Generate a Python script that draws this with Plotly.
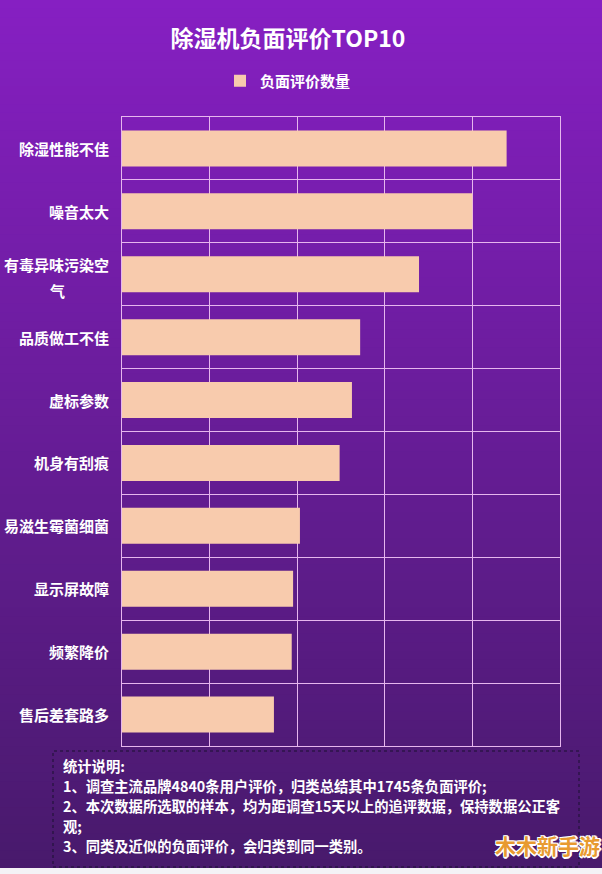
import plotly.graph_objects as go

# ---- data ----
categories = ["除湿性能不佳", "噪音太大", "有毒异味污染空\n气", "品质做工不佳", "虚标参数",
              "机身有刮痕", "易滋生霉菌细菌", "显示屏故障", "频繁降价", "售后差套路多"]
values = [281, 256, 217, 174, 168, 159, 130, 125, 124, 111]
series_name = "负面评价数量"
title_text = "除湿机负面评价TOP10"
note_lines = ["统计说明:",
              "1、调查主流品牌4840条用户评价，归类总结其中1745条负面评价;",
              "2、本次数据所选取的样本，均为距调查15天以上的追评数据，保持数据公正客",
              "观;",
              "3、同类及近似的负面评价，会归类到同一类别。"]
watermark = "木木新手游"

# ---- layout geometry (pixels) ----
W, H = 602, 874
L, R, T, B = 122, 42, 117, 128
PW, PH = W - L - R, H - T - B
FONT = "Noto Sans CJK SC, Noto Sans, sans-serif"
GRID = "#E6B6EE"

def px_x(x):
    return (x - L) / PW

def px_y(y):
    return (H - B - y) / PH

fig = go.Figure()
fig.add_trace(go.Bar(
    y=categories, x=values, orientation="h", name=series_name,
    marker=dict(color="#F8CBAD", line=dict(width=0)),
    showlegend=True,
))

# background gradient (overlapping strips to avoid seams)
top_c = (134, 31, 194)
bot_c = (72, 26, 108)
n = 100
bg_bottom = 868
shapes = []
for i in range(n):
    y0 = bg_bottom * i / n
    y1 = min(bg_bottom * (i + 1) / n + 3, bg_bottom)
    t = i / (n - 1)
    c = tuple(round(top_c[k] + (bot_c[k] - top_c[k]) * t) for k in range(3))
    shapes.append(dict(type="rect", xref="paper", yref="paper",
                       x0=px_x(-2), x1=px_x(W + 2), y0=px_y(y1), y1=px_y(y0),
                       fillcolor="rgb(%d,%d,%d)" % c, line=dict(width=0), layer="below"))
# note box
shapes.append(dict(type="rect", xref="paper", yref="paper",
                   x0=px_x(53), x1=px_x(579), y0=px_y(867), y1=px_y(751),
                   line=dict(color="#1A1030", width=1, dash="dot"), layer="above"))

annotations = []
LF = 15
for cat in categories:
    lines = cat.split("\n")
    if len(lines) == 1:
        annotations.append(dict(x=px_x(111), xref="paper", y=cat, yref="y", text=cat,
                                showarrow=False, xanchor="right", yanchor="middle",
                                font=dict(family=FONT, size=LF, color="white", weight="bold")))
    else:
        w1 = len(lines[0]) * LF * 1.02
        annotations.append(dict(x=px_x(111), xref="paper", y=cat, yref="y", text=lines[0],
                                showarrow=False, xanchor="right", yanchor="middle", yshift=10,
                                font=dict(family=FONT, size=LF, color="white", weight="bold")))
        annotations.append(dict(x=px_x(111 - w1 / 2), xref="paper", y=cat, yref="y", text=lines[1],
                                showarrow=False, xanchor="center", yanchor="middle", yshift=-16,
                                font=dict(family=FONT, size=LF, color="white", weight="bold")))

for i, line in enumerate(note_lines):
    annotations.append(dict(x=px_x(61), xref="paper", y=px_y(765 + 20 * i), yref="paper",
                            text=line, showarrow=False, xanchor="left", yanchor="middle",
                            font=dict(family=FONT, size=14.3, color="white", weight="bold")))

annotations.append(dict(x=px_x(547), xref="paper", y=px_y(845), yref="paper", text=watermark,
                        showarrow=False, xanchor="center", yanchor="middle",
                        font=dict(family=FONT, size=21, color="#E89A30", weight="bold",
                                  shadow="1px 1px 0 #fff, -1px -1px 0 #fff, 1px -1px 0 #fff, -1px 1px 0 #fff, 0 2px 0 #fff, 2px 0 0 #fff")))

fig.update_layout(
    width=W, height=H,
    margin=dict(l=L, r=R, t=T, b=B, pad=0),
    paper_bgcolor="#F4F2F6",
    plot_bgcolor="rgba(0,0,0,0)",
    bargap=0.428,
    title=dict(text=title_text, x=288 / W, xref="container", xanchor="center",
               y=1 - 39 / H, yref="container", yanchor="middle",
               font=dict(family=FONT, size=23, color="white", weight="bold")),
    legend=dict(orientation="h", x=px_x(220), xanchor="left", y=px_y(81), yanchor="middle",
                bgcolor="rgba(0,0,0,0)",
                font=dict(family=FONT, size=15, color="white", weight="bold")),
    xaxis=dict(range=[0, 320], dtick=64, showticklabels=False, showgrid=True,
               gridcolor=GRID, gridwidth=1.3, zeroline=False,
               showline=True, mirror=True, linecolor=GRID, linewidth=1.3, fixedrange=True),
    yaxis=dict(type="category", autorange="reversed", tickson="boundaries",
               showticklabels=False, showgrid=True, gridcolor=GRID, gridwidth=1.3,
               ticks="", showline=True, mirror=True, linecolor=GRID, linewidth=1.3),
    shapes=shapes,
    annotations=annotations,
)

fig.write_html("out.html")
